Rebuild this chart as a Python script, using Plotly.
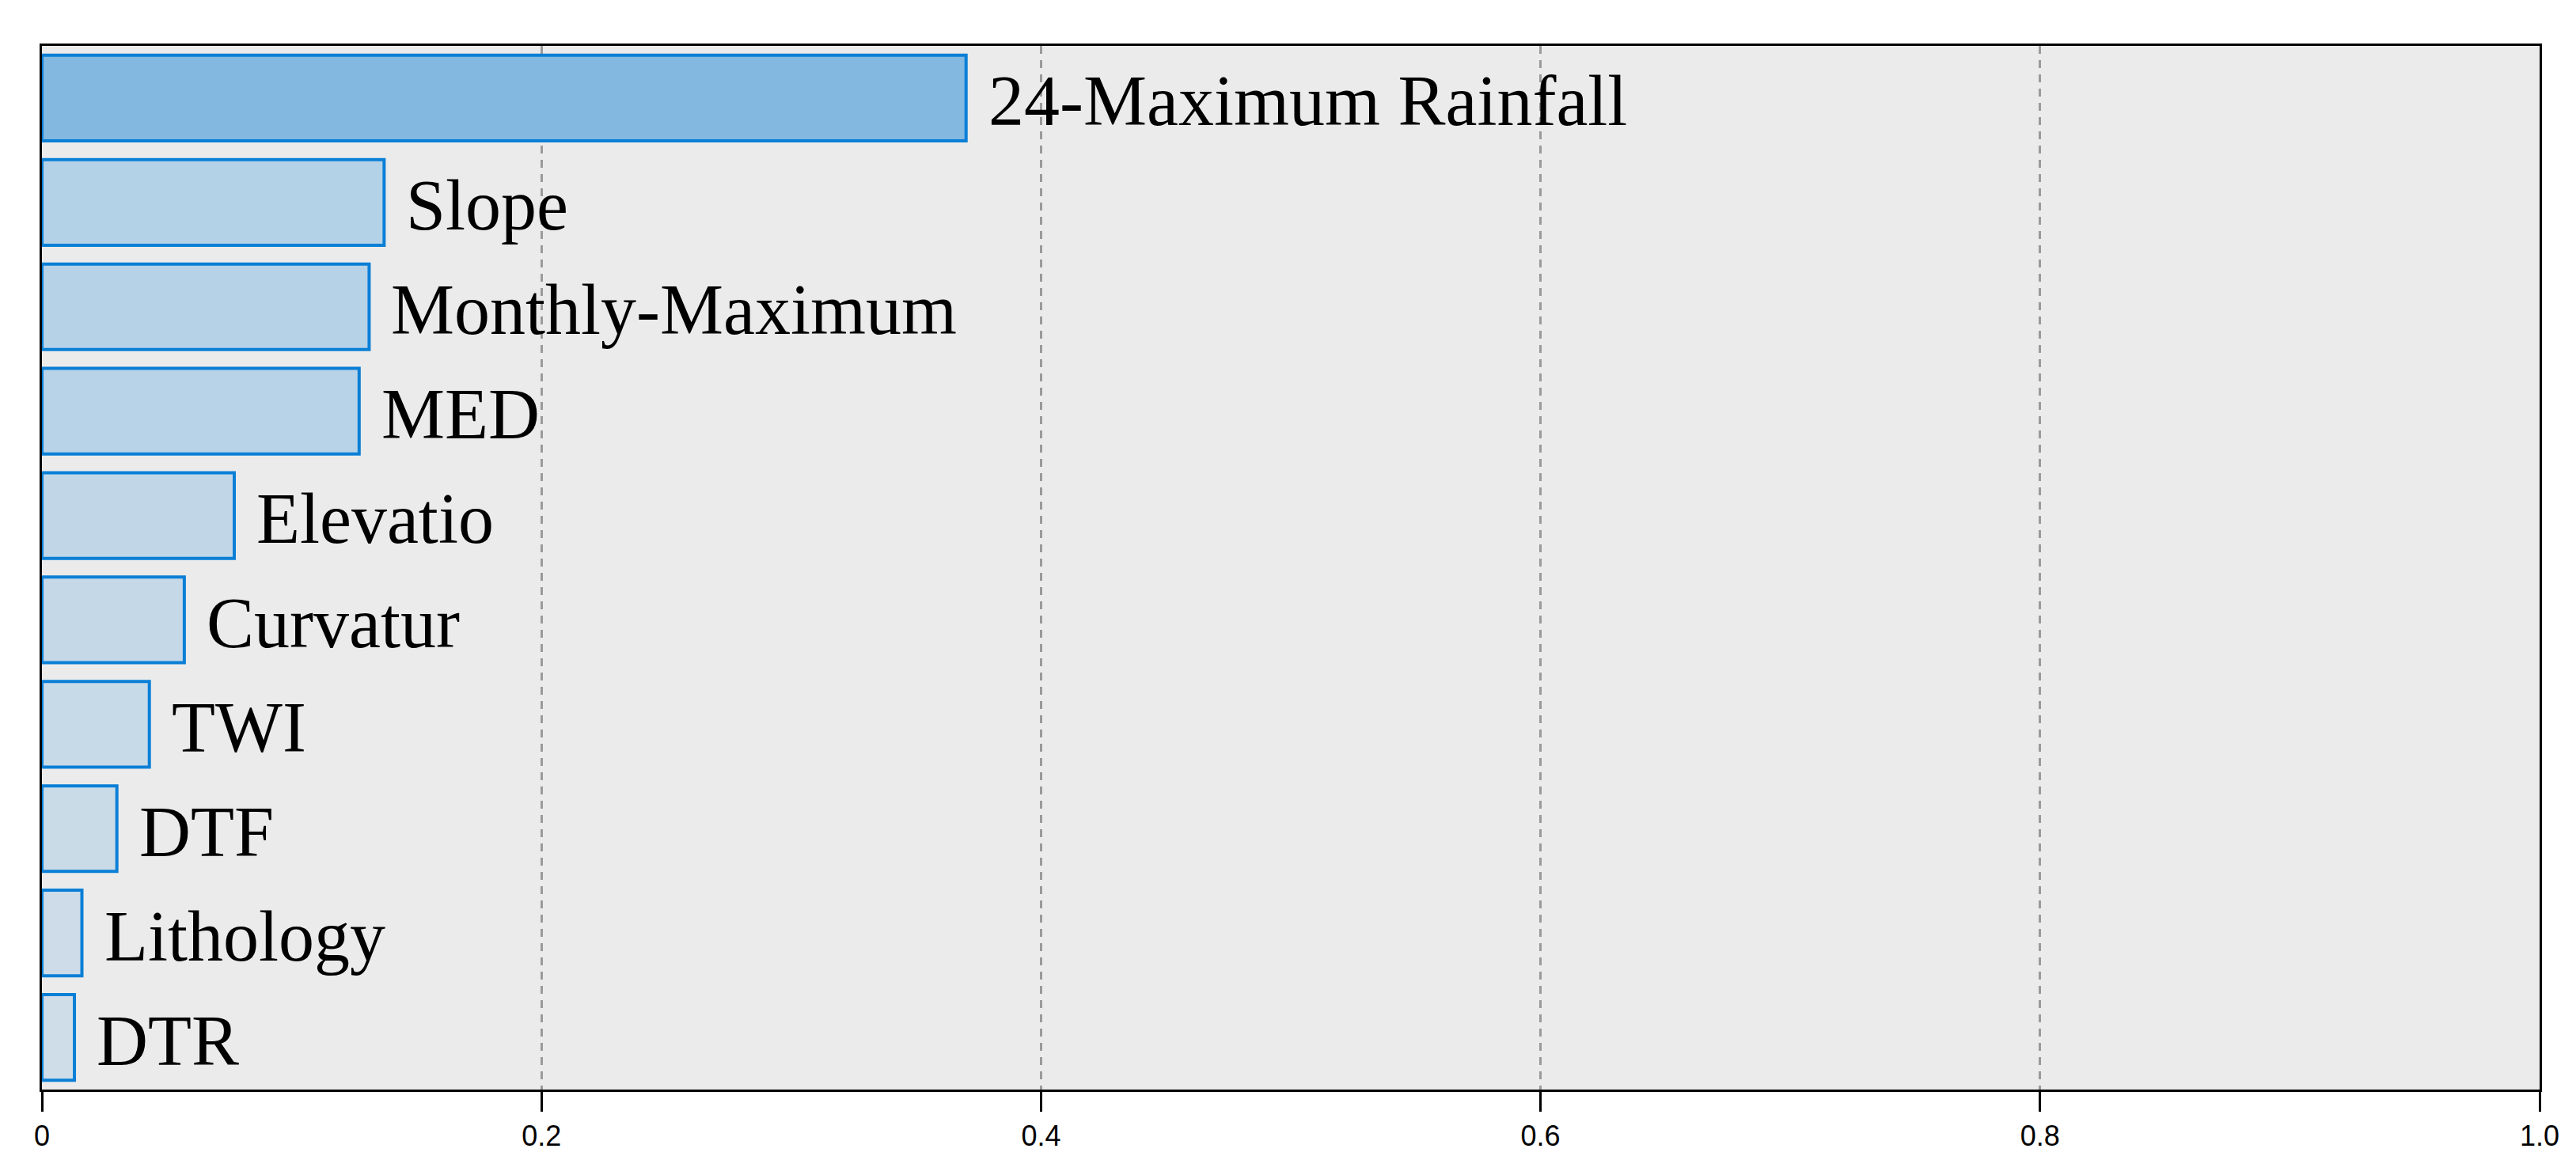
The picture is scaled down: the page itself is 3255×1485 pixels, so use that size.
import plotly.graph_objects as go

# feature importance, top to bottom as in the figure
features = ['24-Maximum Rainfall', 'Slope', 'Monthly-Maximum', 'MED', 'Elevatio',
            'Curvatur', 'TWI', 'DTF', 'Lithology', 'DTR']
importance = [0.370, 0.137, 0.131, 0.127, 0.077, 0.057, 0.043, 0.030, 0.016, 0.013]
bar_colors = ['#83b8e0', '#b3d1e7', '#b6d2e7', '#b8d3e7', '#c1d7e8',
              '#c4d8e8', '#c7dae8', '#cadbe8', '#cddce8', '#cfdde8']
x_ticks = [0, 0.2, 0.4, 0.6, 0.8, 1.0]
x_tick_text = ['0', '0.2', '0.4', '0.6', '0.8', '1.0']

fig = go.Figure(go.Bar(
    x=importance, y=features, orientation='h',
    marker=dict(color=bar_colors, line=dict(color='#0a7fd6', width=4)),
    width=0.82, showlegend=False, hoverinfo='x+y'))

# labels just right of each bar end
for feat, val in zip(features, importance):
    fig.add_annotation(x=val, y=feat, text=feat, showarrow=False,
                       xanchor='left', yanchor='middle', xshift=26, yshift=-4,
                       font=dict(family='Liberation Serif, Times New Roman, serif',
                                 size=90, color='black'))

fig.update_layout(
    width=3255, height=1485,
    margin=dict(l=45, r=54, t=50, b=116),
    paper_bgcolor='white', plot_bgcolor='#ebebeb',
    xaxis=dict(range=[0, 1], tickvals=x_ticks, ticktext=x_tick_text,
               showgrid=True, gridcolor='#9a9a9a', gridwidth=3, griddash='10px,8px',
               zeroline=False, showline=True, linecolor='black', linewidth=3, mirror=True,
               ticks='outside', ticklen=25, tickwidth=3, tickcolor='black',
               tickfont=dict(family='Liberation Sans Narrow, Arial Narrow, Liberation Sans, sans-serif',
                             size=36, color='black')),
    yaxis=dict(categoryorder='array', categoryarray=features[::-1],
               showticklabels=False, showgrid=False, zeroline=False,
               showline=True, linecolor='black', linewidth=3, mirror=True, ticks=''),
)

fig.write_html("out.html")
